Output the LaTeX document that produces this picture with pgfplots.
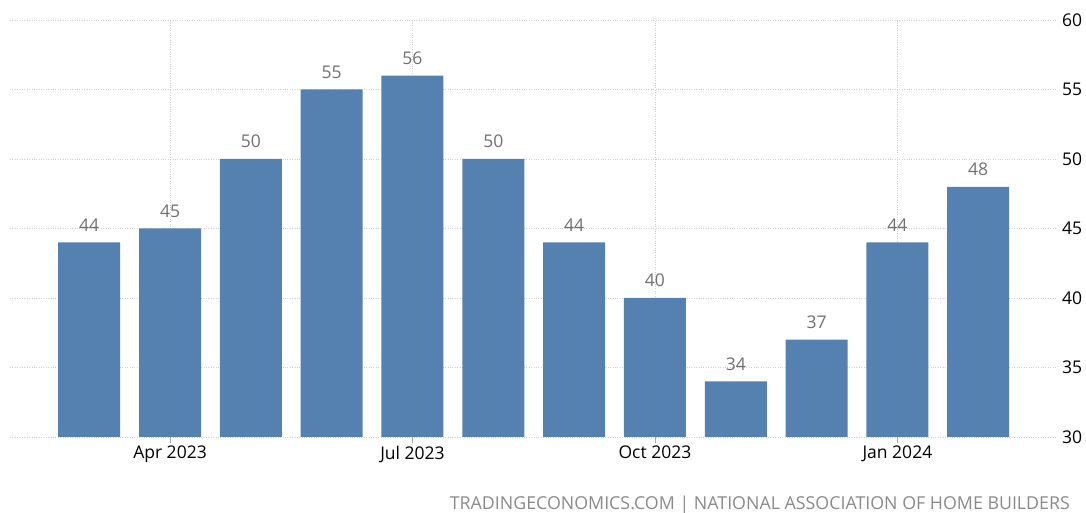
\documentclass[border=0pt]{standalone}
\usepackage{fontspec}
\setmainfont{Open Sans}
\usepackage{pgfplots}
\pgfplotsset{compat=1.18}
\definecolor{barblue}{HTML}{5581B1}
\definecolor{gridgray}{HTML}{D0D0D0}
\definecolor{lblgray}{HTML}{707070}
\definecolor{footgray}{HTML}{8A8A8A}
\begin{document}
\begin{tikzpicture}[x=1bp,y=1bp]
\path[use as bounding box] (0,0) rectangle (1086,513);
\begin{axis}[
  at={(10bp,76bp)}, anchor=south west,
  scale only axis, width=1045bp, height=417bp,
  xmin=-0.98, xmax=11.95, ymin=30, ymax=60,
  axis line style={draw=none},
  xtick={1,4,7,10},
  xticklabels={Apr 2023,Jul 2023,Oct 2023,Jan 2024},
  xtick pos=bottom, tick align=outside,
  major tick length=6bp,
  x tick style={gridgray!80!black, line width=0.6bp},
  ytick={30,35,...,60}, ytick pos=right,
  y tick style={draw=none},
  grid=major,
  major grid style={gridgray, dotted, line width=0.8bp},
  /pgf/number format/assume math mode=true,
  tick label style={font=\fontsize{17.5bp}{20bp}\selectfont, text=black},
  xticklabel style={anchor=north, inner sep=0pt, yshift=-3bp},
  yticklabel style={anchor=west, inner sep=0pt, xshift=1bp},
  nodes near coords,
  every node near coord/.append style={font=\fontsize{17.5bp}{20bp}\selectfont, text=lblgray, anchor=south, inner sep=0pt, yshift=11bp},
  clip=false,
]
\addplot[ybar, bar width=62bp, bar shift=0pt, fill=barblue, draw=none] coordinates {
(0,44) (1,45) (2,50) (3,55) (4,56) (5,50) (6,44) (7,40) (8,34) (9,37) (10,44) (11,48)
};
\node[anchor=base east, inner sep=0pt, text=footgray, font=\fontsize{17.8bp}{20bp}\selectfont] at (rel axis cs:1,0) [xshift=15bp, yshift=-73bp] {TRADINGECONOMICS.COM | NATIONAL ASSOCIATION OF HOME BUILDERS};
\end{axis}
\end{tikzpicture}
\end{document}
